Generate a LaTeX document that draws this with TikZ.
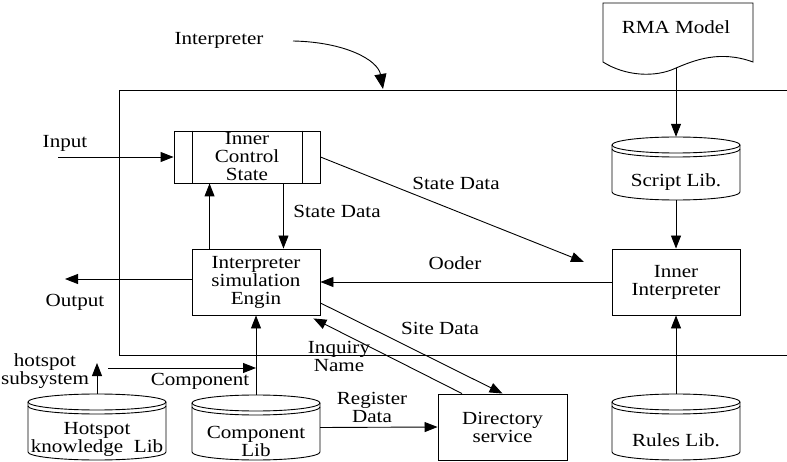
\documentclass[tikz,border=0pt]{standalone}
\usepackage{fontspec}
\setmainfont{Liberation Serif}[FakeStretch=1.14]
\usetikzlibrary{arrows.meta}
\tikzset{
  lw/.style={line width=0.9pt},
  arr/.style={lw,-{Triangle[length=13pt,width=10pt]}},
  box/.style={draw,lw,rectangle,align=center,inner sep=0pt},
  ghost/.style={rectangle,inner sep=0pt},
  txt/.style={align=center,inner sep=0pt},
}
\begin{document}
\begin{tikzpicture}[x=1pt,y=-1pt,font=\fontsize{18.5}{18}\selectfont]
\path[use as bounding box,fill=white] (0,0) rectangle (787,462);

% outer frame
\draw[lw] (787,90) -- (119,90) -- (119,355) -- (787,355);

% boxes
\node[box,minimum width=146pt,minimum height=52pt] (ics) at (247,157) {Inner\\Control\\State};
\draw[lw] ([xshift=19pt]ics.north west) -- ([xshift=19pt]ics.south west);
\draw[lw] ([xshift=-18pt]ics.north east) -- ([xshift=-18pt]ics.south east);
\node[box,minimum width=128pt,minimum height=66pt] (eng) at (256,282) {Interpreter\\simulation\\Engin};
\node[box,minimum width=128pt,minimum height=66pt] (ii) at (676,282) {Inner\\Interpreter};
\node[box,minimum width=129pt,minimum height=66pt] (dir) at (502.5,427) {Directory\\service};

% RMA document
\draw[lw] (676,68) .. controls (695,60) and (720,50) .. (753,62) -- (753,3) -- (603,3) -- (603,62)
  .. controls (625,76) and (655,78) .. (676,68);
\node[txt] (rma) at (676,27) {RMA Model};
\coordinate (rmab) at (676,68);

% cylinders
\draw[lw] (676,145) ellipse [x radius=64pt,y radius=8pt];
\draw[lw] (612,149) arc[start angle=180,end angle=360,x radius=64pt,y radius=8pt];
\draw[lw] (612,145) -- (612,192) arc[start angle=180,end angle=360,x radius=64pt,y radius=8pt] -- (740,145);
\node[ghost,minimum width=128pt,minimum height=63pt] (script) at (676,168.5) {};
\node[txt] (scriptt) at (676,182) {Script Lib.};

\draw[lw] (676,402) ellipse [x radius=64pt,y radius=8pt];
\draw[lw] (612,406) arc[start angle=180,end angle=360,x radius=64pt,y radius=8pt];
\draw[lw] (612,402) -- (612,452) arc[start angle=180,end angle=360,x radius=64pt,y radius=8pt] -- (740,402);
\node[ghost,minimum width=128pt,minimum height=66pt] (rules) at (676,427) {};
\node[txt] (rulest) at (676,440) {Rules Lib.};

\draw[lw] (256,403) ellipse [x radius=64pt,y radius=8pt];
\draw[lw] (192,407) arc[start angle=180,end angle=360,x radius=64pt,y radius=8pt];
\draw[lw] (192,403) -- (192,452) arc[start angle=180,end angle=360,x radius=64pt,y radius=8pt] -- (320,403);
\node[ghost,minimum width=128pt,minimum height=65pt] (comp) at (256,427.5) {};
\node[txt] (compt) at (256,441) {Component\\Lib};

\draw[lw] (97,402) ellipse [x radius=69pt,y radius=8pt];
\draw[lw] (28,406) arc[start angle=180,end angle=360,x radius=69pt,y radius=8pt];
\draw[lw] (28,402) -- (28,452) arc[start angle=180,end angle=360,x radius=69pt,y radius=8pt] -- (166,402);
\node[ghost,minimum width=138pt,minimum height=66pt] (hot) at (97,427) {};
\node[txt] (hott) at (97,439) {Hotspot\\knowledge\ \ Lib};

% free coordinates
\coordinate (intstart) at (293,41);
\coordinate (intend) at (383,89);
\coordinate (inp) at (58,157);
\coordinate (outp) at (65,279);
\coordinate (sdend) at (584,262);
\coordinate (hsup) at (97,363);
\coordinate (c1) at (108,368);
\coordinate (c2) at (256,368);

% labels
\node[txt] (lint) at (219,40) {Interpreter};
\node[txt] (linp) at (65,143) {Input};
\node[txt] (lout) at (75,302) {Output};
\node[txt] (lsd1) at (337,211) {State Data};
\node[txt] (lsd2) at (456,183) {State Data};
\node[txt] (lood) at (455,263) {Ooder};
\node[txt] (lsite) at (440,328) {Site Data};
\node[txt] (linq) at (339,356) {Inquiry\\Name};
\node[txt] (lhs) at (45,371) {hotspot\\subsystem};
\node[txt] (lcomp) at (200,381) {Component};
\node[txt] (lreg) at (372,407) {Register\\Data};

% connectors
\draw[lw,-{Triangle[length=15pt,width=12pt]}] (intstart) .. controls (345,42) and (378,60) .. (intend);
\draw[arr] (inp) -- (ics.west);
\draw[arr] ([yshift=3pt]eng.west) -- (outp);
\draw[arr] ([xshift=18pt]eng.north west) -- ([xshift=36pt]ics.south west);
\draw[arr] ([xshift=-37pt]ics.south east) -- ([xshift=-37pt]eng.north east);
\draw[arr] (ics.east) -- (sdend);
\draw[arr] (ii.west) -- (eng.east);
\draw[arr] (rmab) -- (script.north);
\draw[arr] (script.south) -- (ii.north);
\draw[arr] (rules.north) -- (ii.south);
\draw[arr] ([yshift=-21pt]eng.east) -- (dir.north);
\draw[arr] ([xshift=-40.5pt]dir.north) -- ([xshift=-7pt,yshift=-3pt]eng.south east);
\draw[arr] (comp.north) -- (eng.south);
\draw[arr] (comp.east) -- (dir.west);
\draw[arr] (hot.north) -- (hsup);
\draw[arr] (c1) -- (c2);
\end{tikzpicture}
\end{document}
